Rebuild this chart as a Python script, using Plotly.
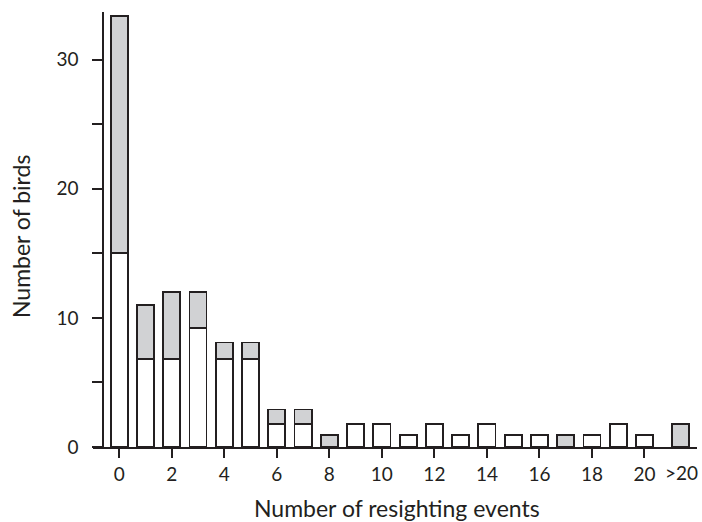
import plotly.graph_objects as go

# Data
positions = [0, 1, 2, 3, 4, 5, 6, 7, 8, 9, 10, 11, 12, 13, 14, 15, 16, 17, 18, 19, 20, 21.38]
white_vals = [15, 6.8, 6.8, 9.2, 6.8, 6.8, 1.8, 1.8, 0, 1.8, 1.8, 0.9, 1.8, 0.9, 1.8, 0.9, 0.9, 0, 0.9, 1.8, 0.9, 0]
grey_vals = [18.4, 4.2, 5.2, 2.8, 1.3, 1.3, 1.1, 1.1, 0.9, 0, 0, 0, 0, 0, 0, 0, 0, 0.9, 0, 0, 0, 1.8]
x_tickvals = [0, 2, 4, 6, 8, 10, 12, 14, 16, 18, 20]
x_ticktext = ["0", "2", "4", "6", "8", "10", "12", "14", "16", "18", "20"]
extra_label = ">20"
extra_pos = 21.42
y_tickvals = [0, 10, 20, 30]
x_title = "Number of resighting events"
y_title = "Number of birds"

FONT = "Lato"
INK = "#231f20"

fig = go.Figure()
fig.add_trace(go.Bar(x=positions, y=white_vals, width=0.65,
                     marker=dict(color="white", line=dict(color=INK, width=1.8)),
                     showlegend=False))
fig.add_trace(go.Bar(x=positions, y=grey_vals, width=0.65,
                     marker=dict(color="#d1d2d4", line=dict(color=INK, width=1.8)),
                     showlegend=False))

fig.update_layout(
    barmode="stack",
    width=702, height=522,
    margin=dict(l=93, r=5, t=12, b=75),
    plot_bgcolor="white", paper_bgcolor="white",
    font=dict(family=FONT, size=19, color=INK),
    xaxis=dict(range=[-1, 22], tickvals=x_tickvals, ticktext=x_ticktext,
               ticks="outside", ticklen=9, tickwidth=1.6, tickcolor=INK,
               ticklabelstandoff=0,
               showline=True, linecolor=INK, linewidth=1.6,
               showgrid=False, zeroline=False, automargin=False),
    yaxis=dict(range=[0, 33.7], tickvals=y_tickvals,
               anchor="free", position=0.0166,
               ticks="outside", ticklen=10, tickwidth=1.6, tickcolor=INK,
               ticklabelstandoff=10,
               minor=dict(dtick=5, tick0=0, ticks="outside", ticklen=10, tickwidth=1.6, tickcolor=INK, showgrid=False),
               showline=True, linecolor=INK, linewidth=1.6,
               showgrid=False, zeroline=False, automargin=False),
)

fig.add_annotation(x=extra_pos, y=-0.058, xref="x", yref="paper", text=extra_label,
                   showarrow=False, yanchor="middle", xanchor="center",
                   font=dict(family=FONT, size=19, color=INK))
fig.add_annotation(x=0.503, y=-0.140, xref="paper", yref="paper", text=x_title,
                   showarrow=False, yanchor="middle", xanchor="center",
                   font=dict(family=FONT, size=23, color=INK))
fig.add_annotation(x=-0.119, y=0.483, xref="paper", yref="paper", text=y_title,
                   showarrow=False, yanchor="middle", xanchor="center", textangle=-90,
                   font=dict(family=FONT, size=23, color=INK))

fig.write_html("out.html",
               config={"displayModeBar": False},
               post_script="document.body.style.margin='0px';document.body.style.overflow='hidden';")
